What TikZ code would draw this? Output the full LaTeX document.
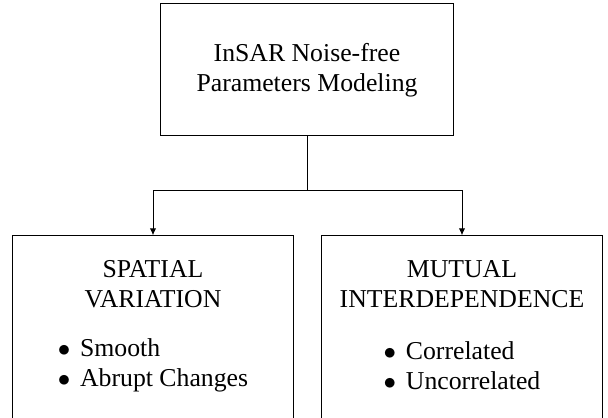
\documentclass[tikz,border=0pt]{standalone}
\usepackage{fontspec}
\setmainfont{Liberation Serif}
\usetikzlibrary{arrows.meta}
\newcommand{\itm}[1]{$\bullet$\hspace{3.9pt}#1}
\begin{document}
\begin{tikzpicture}[x=0.4pt,y=-0.4pt,
  boxnode/.style={draw,line width=0.4pt,align=center,inner sep=0pt,
    font=\fontsize{10.3pt}{12pt}\selectfont},
  conn/.style={line width=0.4pt},
  arr/.style={conn,-{Latex[length=2.8pt,width=2.6pt]}}]
\useasboundingbox (0,0) rectangle (608,418);
\node[boxnode,minimum width=117.4pt,minimum height=52.8pt] (top) at (307,70)
  {InSAR Noise-free\\Parameters Modeling};
\node[boxnode,minimum width=112pt,minimum height=73.7pt] (left) at (153,327.9)
  {SPATIAL\\VARIATION\\[7.6pt]\begin{tabular}[t]{@{}l@{}}\itm{Smooth}\\ \itm{Abrupt Changes}\end{tabular}};
\node[boxnode,minimum width=112pt,minimum height=74.9pt] (right) at (462,329.4)
  {MUTUAL\\INTERDEPENDENCE\\[8.8pt]\begin{tabular}[t]{@{}l@{}}\itm{Correlated}\\ \itm{Uncorrelated}\end{tabular}};
\coordinate (j) at (307,190.7);
\draw[conn] (top.south) -- (j);
\draw[arr] (j) -| (left.north);
\draw[arr] (j) -| (right.north);
\end{tikzpicture}
\end{document}
